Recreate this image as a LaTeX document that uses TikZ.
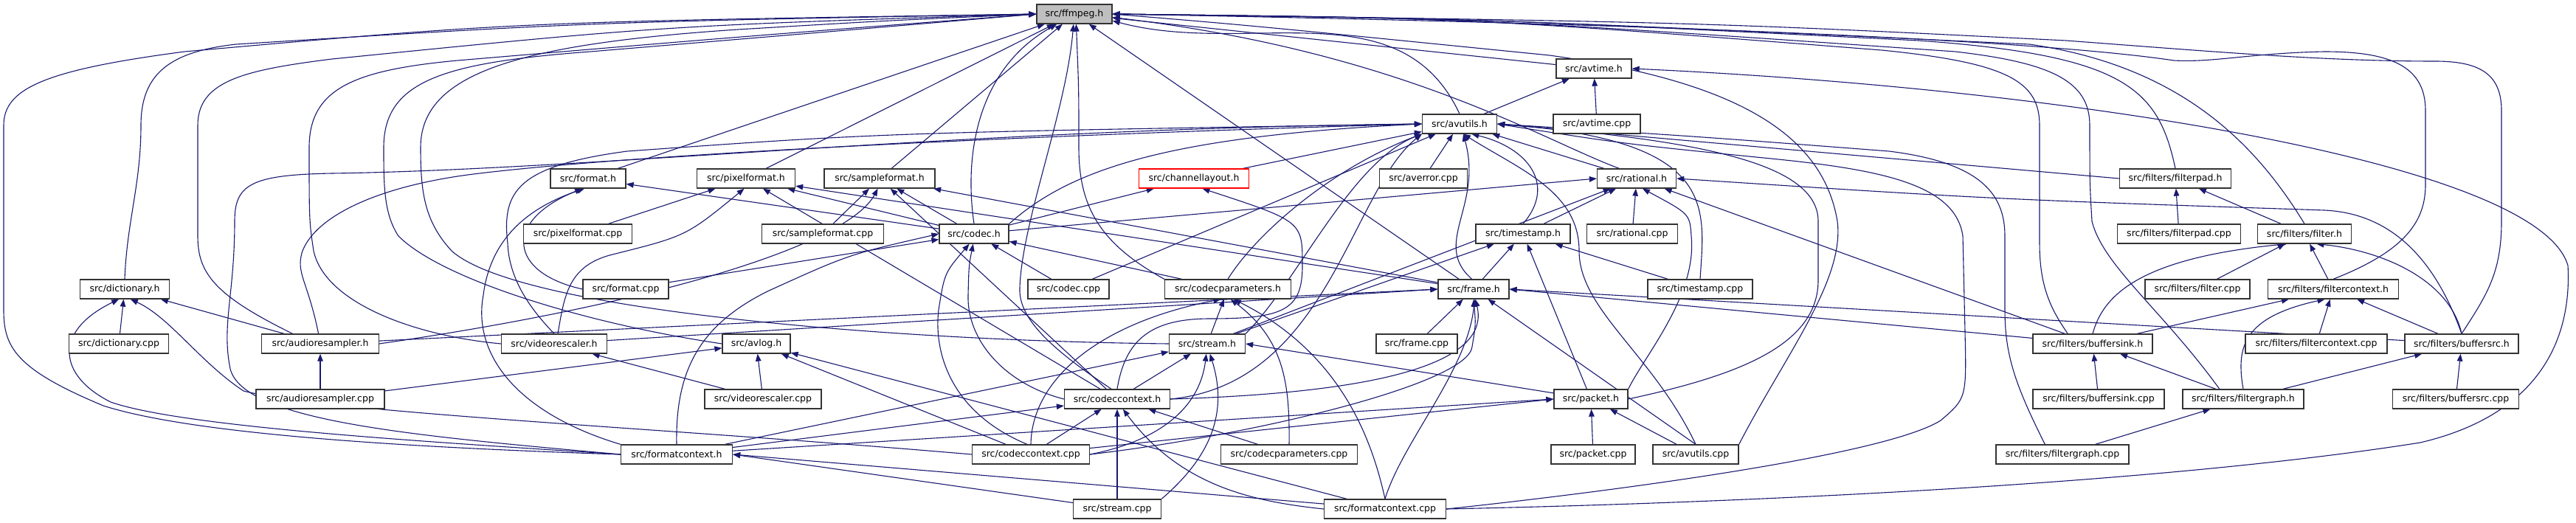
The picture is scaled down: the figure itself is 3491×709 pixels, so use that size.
\documentclass[tikz,border=0pt]{standalone}
\usepackage{fontspec}
\setmainfont{DejaVu Sans}
\usetikzlibrary{arrows.meta}
\definecolor{edgecol}{RGB}{25,25,112}
\definecolor{ffgray}{RGB}{191,191,191}
\pgfdeclarelayer{back}
\pgfdeclarelayer{bg}
\pgfsetlayers{back,bg,main}
\begin{document}
\begin{tikzpicture}[x=1pt,y=1pt,
  box/.style={draw=black!80,line width=1.3pt,fill=white,minimum height=26pt,inner xsep=3pt,inner ysep=0pt,
    font=\fontsize{12.5}{14}\selectfont},
  e/.style={draw=edgecol,line width=1.1pt,-{Triangle[length=10pt,width=7.5pt]}}]
\begin{pgfonlayer}{back}
\fill[white] (0,0) rectangle (3491,-709);
\end{pgfonlayer}
\path[use as bounding box] (0,0) rectangle (3491,-709);
% rank 0-2
\node[box,minimum width=102pt,fill=ffgray] (ffmpeg) at (1456,-19) {src/ffmpeg.h};
\node[box,minimum width=102pt] (avtime_h) at (2160,-93) {src/avtime.h};
\node[box,minimum width=101pt] (avutils_h) at (1978,-168) {src/avutils.h};
\node[box,minimum width=118pt] (avtime_cpp) at (2164,-168) {src/avtime.cpp};
% rank 3
\node[box,minimum width=102pt] (format_h) at (797,-242) {src/format.h};
\node[box,minimum width=133pt] (pixelformat_h) at (1011,-242) {src/pixelformat.h};
\node[box,minimum width=150pt] (sampleformat_h) at (1192,-242) {src/sampleformat.h};
\node[box,minimum width=149pt,draw=red] (channellayout_h) at (1618,-242) {src/channellayout.h};
\node[box,minimum width=119pt] (averror_cpp) at (1929,-242) {src/averror.cpp};
\node[box,minimum width=107pt] (rational_h) at (2218,-242) {src/rational.h};
\node[box,minimum width=151pt] (filterpad_h) at (2948,-242) {src/filters/filterpad.h};
% rank 4
\node[box,minimum width=147pt] (pixelformat_cpp) at (783,-317) {src/pixelformat.cpp};
\node[box,minimum width=165pt] (sampleformat_cpp) at (1115,-317) {src/sampleformat.cpp};
\node[box,minimum width=94pt] (codec_h) at (1320,-317) {src/codec.h};
\node[box,minimum width=128pt] (timestamp_h) at (2064,-317) {src/timestamp.h};
\node[box,minimum width=123pt] (rational_cpp) at (2212,-317) {src/rational.cpp};
\node[box,minimum width=167pt] (filterpad_cpp) at (2953,-317) {src/filters/filterpad.cpp};
\node[box,minimum width=127pt] (filter_h) at (3123,-317) {src/filters/filter.h};
% rank 5
\node[box,minimum width=121pt] (dictionary_h) at (169,-392) {src/dictionary.h};
\node[box,minimum width=116pt] (format_cpp) at (848,-392) {src/format.cpp};
\node[box,minimum width=110pt] (codec_cpp) at (1448,-392) {src/codec.cpp};
\node[box,minimum width=171pt] (codecparameters_h) at (1664,-392) {src/codecparameters.h};
\node[box,minimum width=96pt] (frame_h) at (1997,-392) {src/frame.h};
\node[box,minimum width=142pt] (timestamp_cpp) at (2304,-392) {src/timestamp.cpp};
\node[box,minimum width=142pt] (filter_cpp) at (2978,-392) {src/filters/filter.cpp};
\node[box,minimum width=177pt] (filtercontext_h) at (3162,-392) {src/filters/filtercontext.h};
% rank 6
\node[box,minimum width=135pt] (dictionary_cpp) at (161,-466) {src/dictionary.cpp};
\node[box,minimum width=159pt] (audioresampler_h) at (434,-466) {src/audioresampler.h};
\node[box,minimum width=143pt] (videorescaler_h) at (751,-466) {src/videorescaler.h};
\node[box,minimum width=92pt] (avlog_h) at (1025,-466) {src/avlog.h};
\node[box,minimum width=103pt] (stream_h) at (1636,-466) {src/stream.h};
\node[box,minimum width=110pt] (frame_cpp) at (1920,-466) {src/frame.cpp};
\node[box,minimum width=162pt] (buffersink_h) at (2836,-466) {src/filters/buffersink.h};
\node[box,minimum width=192pt] (filtercontext_cpp) at (3139,-466) {src/filters/filtercontext.cpp};
\node[box,minimum width=154pt] (buffersrc_h) at (3336,-466) {src/filters/buffersrc.h};
% rank 7
\node[box,minimum width=174pt] (audioresampler_cpp) at (434,-541) {src/audioresampler.cpp};
\node[box,minimum width=158pt] (videorescaler_cpp) at (1034,-541) {src/videorescaler.cpp};
\node[box,minimum width=143pt] (codeccontext_h) at (1514,-541) {src/codeccontext.h};
\node[box,minimum width=100pt] (packet_h) at (2156,-541) {src/packet.h};
\node[box,minimum width=178pt] (buffersink_cpp) at (2844,-541) {src/filters/buffersink.cpp};
\node[box,minimum width=164pt] (filtergraph_h) at (3040,-541) {src/filters/filtergraph.h};
\node[box,minimum width=171pt] (buffersrc_cpp) at (3328,-541) {src/filters/buffersrc.cpp};
% rank 8
\node[box,minimum width=151pt] (formatcontext_h) at (917,-616) {src/formatcontext.h};
\node[box,minimum width=159pt] (codeccontext_cpp) at (1397,-616) {src/codeccontext.cpp};
\node[box,minimum width=185pt] (codecparameters_cpp) at (1747,-616) {src/codecparameters.cpp};
\node[box,minimum width=114pt] (packet_cpp) at (2159,-616) {src/packet.cpp};
\node[box,minimum width=116pt] (avutils_cpp) at (2298,-616) {src/avutils.cpp};
\node[box,minimum width=180pt] (filtergraph_cpp) at (2795,-616) {src/filters/filtergraph.cpp};
% rank 9
\node[box,minimum width=119pt] (stream_cpp) at (1514,-690) {src/stream.cpp};
\node[box,minimum width=165pt] (formatcontext_cpp) at (1877,-690) {src/formatcontext.cpp};

\begin{pgfonlayer}{bg}
% ---- into ffmpeg.h
\draw[e] (avtime_h) -- (ffmpeg);
\draw[e] (avutils_h.north) to[out=115,in=-15] (ffmpeg.-10);
\draw[e] (rational_h.150) .. controls (2090,-190) and (1900,-70) .. (ffmpeg.-5);
\draw[e] (format_h) -- (ffmpeg);
\draw[e] (pixelformat_h) -- (ffmpeg);
\draw[e] (sampleformat_h) -- (ffmpeg);
\draw[e] (frame_h) -- (ffmpeg);
\draw[e] (codec_h.north) .. controls (1305,-200) and (1330,-90) .. (ffmpeg.-150);
\draw[e] (codeccontext_h.120) .. controls (1420,-470) and (1380,-430) .. (1382,-390) .. controls (1385,-300) and (1445,-150) .. (ffmpeg.-95);
\draw[e] (codecparameters_h.north west) .. controls (1490,-330) and (1462,-280) .. (1462,-200) .. controls (1462,-120) .. (ffmpeg.-80);
\draw[e] (stream_h.west) .. controls (1200,-462) and (700,-420) .. (612,-340) .. controls (575,-300) and (570,-260) .. (570,-200) .. controls (570,-100) and (700,-60) .. (1000,-40) .. controls (1200,-28) .. (ffmpeg.west);
\draw[e] (avlog_h.west) .. controls (800,-440) and (600,-380) .. (540,-320) .. controls (520,-290) and (520,-250) .. (520,-200) .. controls (520,-110) and (600,-85) .. (800,-70) .. controls (1100,-45) .. (ffmpeg.west);
\draw[e] (videorescaler_h.west) .. controls (560,-455) and (440,-410) .. (425,-340) .. controls (419,-300) .. (419,-200) .. controls (419,-120) and (480,-95) .. (620,-82) .. controls (1000,-50) .. (ffmpeg.west);
\draw[e] (audioresampler_h.160) .. controls (290,-400) and (268,-370) .. (268,-320) -- (268,-170) .. controls (268,-110) and (330,-95) .. (450,-80) .. controls (900,-35) .. (ffmpeg.west);
\draw[e] (dictionary_h.north) .. controls (172,-300) and (191,-250) .. (191,-170) .. controls (191,-100) and (230,-70) .. (320,-60) .. controls (800,-30) .. (ffmpeg.west);
\draw[e] (formatcontext_h.west) .. controls (500,-605) and (250,-585) .. (140,-550) .. controls (20,-500) and (5,-470) .. (5,-420) -- (5,-170) .. controls (5,-120) and (60,-95) .. (250,-70) .. controls (700,-30) .. (ffmpeg.west);
\draw[e] (avutils_cpp.north east) .. controls (2420,-480) and (2500,-380) .. (2490,-300) .. controls (2470,-180) and (2350,-110) .. (2100,-75) .. controls (1700,-35) .. (ffmpeg.east);
\draw[e] (buffersink_h.158) .. controls (2780,-420) and (2764,-390) .. (2764,-330) -- (2764,-170) .. controls (2764,-110) and (2720,-85) .. (2550,-68) .. controls (2000,-25) .. (ffmpeg.east);
\draw[e] (filtergraph_h.157) .. controls (2930,-420) and (2850,-360) .. (2835,-300) .. controls (2832,-250) .. (2832,-170) .. controls (2832,-110) and (2780,-85) .. (2650,-70) .. controls (2000,-25) .. (ffmpeg.east);
\draw[e] (filterpad_h.north) .. controls (2925,-120) and (2880,-75) .. (2600,-55) .. controls (2000,-25) .. (ffmpeg.east);
\draw[e] (filter_h.north) .. controls (3060,-200) and (2960,-90) .. (2750,-60) .. controls (2000,-25) .. (ffmpeg.east);
\draw[e] (filtercontext_h.north) .. controls (3260,-340) and (3287,-300) .. (3287,-250) -- (3287,-150) .. controls (3287,-90) and (3240,-70) .. (3150,-70) .. controls (3050,-72) and (3000,-85) .. (2946,-82) .. controls (2800,-60) and (2400,-35) .. (ffmpeg.east);
\draw[e] (buffersrc_h.north) .. controls (3370,-400) and (3390,-370) .. (3390,-300) -- (3390,-150) .. controls (3390,-100) and (3360,-83) .. (3300,-83) .. controls (3150,-83) and (3000,-70) .. (2800,-55) .. controls (2300,-30) .. (ffmpeg.east);
% ---- avtime.h
\draw[e] (avutils_h) -- (avtime_h);
\draw[e] (avtime_cpp) -- (avtime_h);
\draw[e] (formatcontext_cpp.east) .. controls (2300,-683) and (2900,-660) .. (3280,-600) .. controls (3450,-560) and (3485,-450) .. (3480,-360) .. controls (3440,-220) and (2800,-120) .. (avtime_h.east);
% ---- avutils.h
\draw[e] (averror_cpp) -- (avutils_h);
\draw[e] (rational_h) -- (avutils_h);
\draw[e] (timestamp_h.north) .. controls (2110,-250) and (2070,-200) .. (avutils_h.-40);
\draw[e] (timestamp_cpp.north) .. controls (2310,-280) and (2330,-190) .. (avutils_h.east);
\draw[e] (channellayout_h) -- (avutils_h);
\draw[e] (codec_h.north east) .. controls (1450,-230) and (1580,-185) .. (avutils_h.west);
\draw[e] (codec_cpp) -- (avutils_h);
\draw[e] (codecparameters_h.north) .. controls (1700,-320) and (1800,-230) .. (avutils_h.south west);
\draw[e] (frame_h.100) .. controls (1940,-330) and (2010,-280) .. (avutils_h.-70);
\draw[e] (stream_h.north east) .. controls (1760,-380) and (1830,-220) .. (avutils_h.south west);
\draw[e] (packet_h.east) .. controls (2350,-510) and (2464,-470) .. (2464,-380) -- (2464,-300) .. controls (2464,-220) and (2300,-190) .. (avutils_h.east);
\draw[e] (avutils_cpp.north) .. controls (2240,-480) and (2140,-420) .. (2140,-340) .. controls (2140,-260) and (2060,-230) .. (avutils_h.-70);
\draw[e] (codeccontext_h.east) .. controls (1800,-520) and (1830,-260) .. (avutils_h.south west);
\draw[e] (formatcontext_h.west) .. controls (550,-590) and (330,-570) .. (312,-500) .. controls (300,-440) and (318,-400) .. (318,-300) .. controls (318,-250) and (340,-237) .. (450,-235) .. controls (800,-230) and (1300,-175) .. (avutils_h.west);
\draw[e] (audioresampler_h.100) .. controls (417,-380) and (400,-370) .. (410,-340) .. controls (430,-290) and (520,-250) .. (650,-235) .. controls (900,-205) and (1500,-180) .. (avutils_h.west);
\draw[e] (videorescaler_h.north) .. controls (720,-420) and (690,-380) .. (688,-330) .. controls (680,-260) and (700,-225) .. (850,-205) .. controls (1200,-180) .. (avutils_h.west);
\draw[e] (filterpad_h.west) -- (avutils_h.east);
\draw[e] (filtergraph_cpp.150) .. controls (2730,-520) and (2717,-480) .. (2717,-420) -- (2717,-320) .. controls (2717,-260) and (2680,-220) .. (2560,-205) .. controls (2300,-185) .. (avutils_h.east);
\draw[e] (formatcontext_cpp.east) .. controls (2150,-670) and (2550,-620) .. (2630,-570) .. controls (2665,-540) .. (2663,-450) -- (2660,-320) .. controls (2650,-250) and (2550,-230) .. (2400,-215) .. controls (2200,-195) .. (avutils_h.east);
% ---- rational.h
\draw[e] (rational_cpp) -- (rational_h);
\draw[e] (timestamp_h) -- (rational_h);
\draw[e] (codec_h) -- (rational_h.west);
\draw[e] (stream_h) -- (rational_h);
\draw[e] (packet_h.north east) .. controls (2230,-480) and (2300,-400) .. (2292,-320) .. controls (2290,-290) .. (rational_h.-60);
\draw[e] (buffersink_h) -- (rational_h);
\draw[e] (buffersrc_h.north) .. controls (3310,-380) and (3260,-290) .. (3150,-285) .. controls (2700,-270) .. (rational_h.east);
% ---- timestamp.h
\draw[e] (timestamp_cpp) -- (timestamp_h);
\draw[e] (frame_h) -- (timestamp_h);
\draw[e] (stream_h) -- (timestamp_h);
\draw[e] (packet_h) -- (timestamp_h);
% ---- format.h
\draw[e] (codec_h) -- (format_h);
\draw[e] (format_cpp.west) .. controls (690,-370) and (680,-300) .. (format_h.-120);
\draw[e] (formatcontext_h.north west) .. controls (700,-560) and (640,-480) .. (655,-400) .. controls (665,-320) and (720,-280) .. (format_h.-110);
% ---- pixelformat.h / sampleformat.h
\draw[e] (pixelformat_cpp) -- (pixelformat_h);
\draw[e] (codec_h) -- (pixelformat_h);
\draw[e] (frame_h) -- (pixelformat_h);
\draw[e] (videorescaler_h.70) .. controls (765,-400) and (770,-360) .. (830,-345) .. controls (930,-320) .. (pixelformat_h.-100);
\draw[e] (codeccontext_h) -- (pixelformat_h);
\draw[e] (sampleformat_cpp) -- (sampleformat_h);
\draw[e] (codec_h) -- (sampleformat_h);
\draw[e] (frame_h) -- (sampleformat_h);
\draw[e] (codeccontext_h) -- (sampleformat_h);
\draw[e] (audioresampler_h.east) .. controls (900,-410) and (1150,-330) .. (sampleformat_h.-100);
% ---- channellayout.h
\draw[e] (codec_h) -- (channellayout_h);
\draw[e] (codeccontext_h.north) .. controls (1525,-460) and (1560,-432) .. (1640,-432) .. controls (1740,-432) and (1765,-420) .. (1765,-360) .. controls (1765,-300) .. (channellayout_h.-50);
% ---- codec.h
\draw[e] (codec_cpp) -- (codec_h);
\draw[e] (codecparameters_h) -- (codec_h);
\draw[e] (codeccontext_h.west) .. controls (1360,-520) and (1310,-460) .. (1312,-400) .. controls (1313,-360) .. (codec_h.-95);
\draw[e] (codeccontext_cpp.110) .. controls (1290,-560) and (1265,-480) .. (1272,-420) .. controls (1280,-370) .. (codec_h.-115);
\draw[e] (format_cpp) -- (codec_h);
\draw[e] (formatcontext_h.north) .. controls (915,-500) and (950,-440) .. (1040,-395) .. controls (1150,-345) .. (codec_h.west);
% ---- codecparameters.h
\draw[e] (stream_h) -- (codecparameters_h);
\draw[e] (codeccontext_cpp.north) .. controls (1398,-520) and (1480,-440) .. (codecparameters_h.-125);
\draw[e] (codecparameters_cpp.north) .. controls (1748,-520) and (1740,-460) .. (codecparameters_h.-75);
\draw[e] (formatcontext_cpp.north) .. controls (1860,-600) and (1820,-480) .. (codecparameters_h.-60);
% ---- frame.h
\draw[e] (frame_cpp) -- (frame_h);
\draw[e] (codeccontext_h.east) .. controls (1950,-530) and (2015,-470) .. (frame_h.-80);
\draw[e] (codeccontext_cpp.east) .. controls (1700,-590) and (1990,-520) .. (1995,-470) .. controls (2000,-440) .. (frame_h.-90);
\draw[e] (audioresampler_h) -- (frame_h.west);
\draw[e] (videorescaler_h) -- (frame_h.west);
\draw[e] (avutils_cpp.north) -- (frame_h);
\draw[e] (formatcontext_cpp.north) .. controls (1900,-600) and (1990,-500) .. (frame_h.-85);
\draw[e] (buffersink_h) -- (frame_h.east);
\draw[e] (buffersrc_h) -- (frame_h.east);
% ---- stream.h
\draw[e] (codeccontext_h) -- (stream_h);
\draw[e] (packet_h) -- (stream_h.east);
\draw[e] (codeccontext_cpp.east) .. controls (1560,-600) and (1625,-560) .. (stream_h.-95);
\draw[e] (stream_cpp.north east) .. controls (1640,-620) and (1665,-560) .. (stream_h.-75);
\draw[e] (formatcontext_h) -- (stream_h);
% ---- packet.h
\draw[e] (packet_cpp) -- (packet_h);
\draw[e] (avutils_cpp) -- (packet_h);
\draw[e] (codeccontext_cpp) -- (packet_h.west);
\draw[e] (formatcontext_h) -- (packet_h.west);
% ---- codeccontext.h
\draw[e] (codeccontext_cpp) -- (codeccontext_h);
\draw[e] (stream_cpp) -- (codeccontext_h);
\draw[e] (codecparameters_cpp) -- (codeccontext_h);
\draw[e] (formatcontext_cpp.west) .. controls (1700,-680) and (1600,-660) .. (codeccontext_h.-60);
\draw[e] (formatcontext_h) -- (codeccontext_h);
% ---- formatcontext.h
\draw[e] (formatcontext_cpp) -- (formatcontext_h.east);
\draw[e] (stream_cpp) -- (formatcontext_h.east);
% ---- dictionary.h
\draw[e] (dictionary_cpp) -- (dictionary_h);
\draw[e] (audioresampler_h) -- (dictionary_h);
\draw[e] (formatcontext_h.west) .. controls (600,-600) and (250,-580) .. (150,-545) .. controls (80,-510) and (70,-450) .. (dictionary_h.-120);
\draw[e] (codeccontext_cpp.west) .. controls (900,-580) and (450,-560) .. (330,-530) .. controls (270,-490) and (230,-430) .. (dictionary_h.-60);
% ---- resamplers / avlog
\draw[e] (audioresampler_cpp) -- (audioresampler_h);
\draw[e] (videorescaler_cpp) -- (videorescaler_h);
\draw[e] (audioresampler_cpp) -- (avlog_h);
\draw[e] (videorescaler_cpp) -- (avlog_h);
\draw[e] (codeccontext_cpp) -- (avlog_h);
\draw[e] (formatcontext_cpp) -- (avlog_h);
% ---- filters
\draw[e] (filterpad_cpp) -- (filterpad_h);
\draw[e] (filter_h) -- (filterpad_h);
\draw[e] (filter_cpp) -- (filter_h);
\draw[e] (filtercontext_h) -- (filter_h);
\draw[e] (buffersink_h.north) .. controls (2850,-400) and (2900,-350) .. (filter_h.-150);
\draw[e] (buffersrc_h.north) .. controls (3320,-380) and (3230,-340) .. (filter_h.-40);
\draw[e] (filtercontext_cpp) -- (filtercontext_h);
\draw[e] (buffersink_h) -- (filtercontext_h);
\draw[e] (buffersrc_h) -- (filtercontext_h);
\draw[e] (filtergraph_h.north) .. controls (3030,-470) and (3040,-430) .. (filtercontext_h.-130);
\draw[e] (filtergraph_h) -- (buffersink_h);
\draw[e] (filtergraph_h) -- (buffersrc_h);
\draw[e] (buffersink_cpp) -- (buffersink_h);
\draw[e] (buffersrc_cpp) -- (buffersrc_h);
\draw[e] (filtergraph_cpp) -- (filtergraph_h);
\end{pgfonlayer}
\end{tikzpicture}
\end{document}
